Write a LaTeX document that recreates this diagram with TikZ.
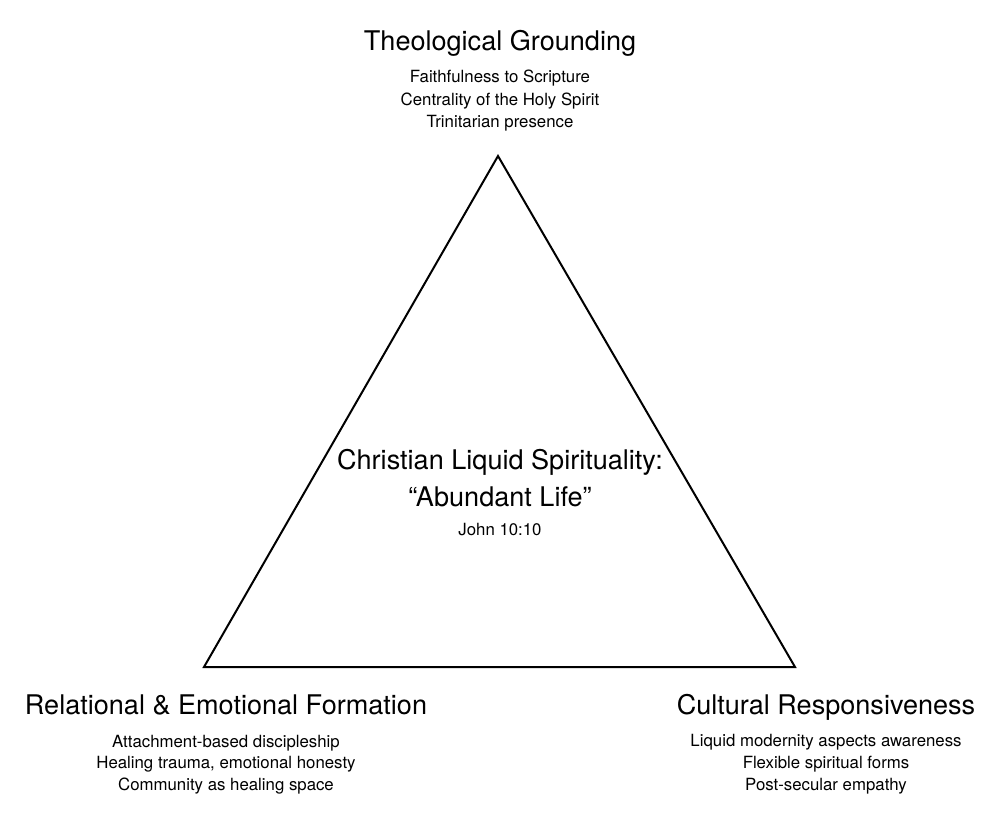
\documentclass[tikz,border=0pt]{standalone}
\usepackage{fontspec}
\setmainfont{TeX Gyre Heros}
\begin{document}
\begin{tikzpicture}[x=0.75pt,y=-0.75pt,
  heading/.style={anchor=base,inner sep=0pt,font=\fontsize{20.3}{24}\selectfont},
  item/.style={anchor=base,inner sep=0pt,font=\fontsize{12.6}{15}\selectfont},
  edge/.style={draw=black,line width=1.5pt,line join=miter}]
\useasboundingbox (0,0) rectangle (1000,838);
% triangle vertices
\coordinate (top) at (498,156);
\coordinate (bl) at (204,667);
\coordinate (br) at (795,667);
\draw[edge] (top) -- (bl) -- (br) -- cycle;
% top
\node[heading] (tg) at (500,51) {Theological Grounding};
\node[item] (t1) at (500,82.5) {Faithfulness to Scripture};
\node[item] (t2) at (500,105.5) {Centrality of the Holy Spirit};
\node[item] (t3) at (500,128) {Trinitarian presence};
% center
\node[heading] (c1) at (500,469) {Christian Liquid Spirituality:};
\node[heading] (c2) at (500,506) {``Abundant Life''};
\node[item] (c3) at (500,535) {John 10:10};
% bottom left
\node[heading] (rl) at (226,714) {Relational \& Emotional Formation};
\node[item] (l1) at (226,747) {Attachment-based discipleship};
\node[item] (l2) at (226,768.5) {Healing trauma, emotional honesty};
\node[item] (l3) at (226,790) {Community as healing space};
% bottom right
\node[heading] (cr) at (826,714) {Cultural Responsiveness};
\node[item] (r1) at (826,746.5) {Liquid modernity aspects awareness};
\node[item] (r2) at (826,768.5) {Flexible spiritual forms};
\node[item] (r3) at (826,790) {Post-secular empathy};
\end{tikzpicture}
\end{document}
